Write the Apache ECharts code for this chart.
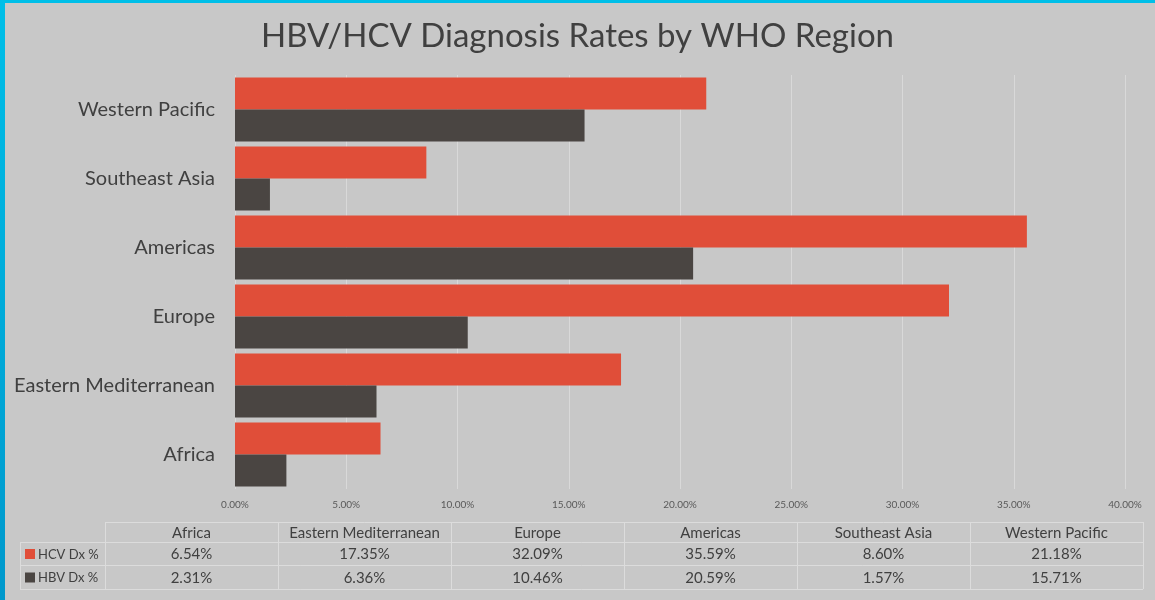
<!DOCTYPE html>
<html>
<head>
<meta charset="utf-8">
<script src="https://cdn.jsdelivr.net/npm/echarts@6/dist/echarts.min.js"></script>
<style>
  html, body { margin: 0; padding: 0; background: #c8c8c8; }
  #chart { width: 1155px; height: 600px; }
  .edgeTop { position: absolute; left: 0; top: 0; width: 1155px; height: 3px; background: #00bfe8; }
  .edgeLeft { position: absolute; left: 0; top: 0; width: 5px; height: 600px;
    background: linear-gradient(#00bfe8, #0098cc); }
</style>
</head>
<body>
<div id="chart"></div>
<div class="edgeTop"></div>
<div class="edgeLeft"></div>
<script>
// regions, bottom to top on the chart (same order as the table)
var regions = ['Africa', 'Eastern Mediterranean', 'Europe', 'Americas', 'Southeast Asia', 'Western Pacific'];
var hcvDx = [6.54, 17.35, 32.09, 35.59, 8.60, 21.18];
var hbvDx = [2.31, 6.36, 10.46, 20.59, 1.57, 15.71];
var seriesNames = ['HCV Dx %', 'HBV Dx %'];

var red = '#e04e39';
var dark = '#4a4542';
var textColor = '#404040';
var font = 'Lato, "Open Sans", sans-serif';

// data table under the chart
var tbl = { left: 20, headLeft: 105, colW: 173, rows: [522, 542, 565, 589] };
var lineColor = '#dcdcdc';
var graphic = [];

function hline(x1, x2, y) {
  graphic.push({ type: 'line', shape: { x1: x1, y1: y + 0.5, x2: x2, y2: y + 0.5 },
    style: { stroke: lineColor, lineWidth: 1 }, silent: true });
}
function vline(x, y1, y2) {
  graphic.push({ type: 'line', shape: { x1: x + 0.5, y1: y1, x2: x + 0.5, y2: y2 },
    style: { stroke: lineColor, lineWidth: 1 }, silent: true });
}
function cellText(txt, x, y, align) {
  graphic.push({ type: 'text', x: x, y: y, silent: true,
    style: { text: txt, fill: textColor, font: '15px ' + font,
      textAlign: align || 'center', textVerticalAlign: 'middle' } });
}

var tableRight = tbl.headLeft + tbl.colW * regions.length;
hline(tbl.headLeft, tableRight, tbl.rows[0]);
hline(tbl.left, tableRight, tbl.rows[1]);
hline(tbl.left, tableRight, tbl.rows[2]);
hline(tbl.left, tableRight, tbl.rows[3]);
vline(tbl.left, tbl.rows[1], tbl.rows[3]);
for (var c = 0; c <= regions.length; c++) {
  vline(tbl.headLeft + c * tbl.colW, tbl.rows[0], tbl.rows[3]);
}
var rowData = [hcvDx, hbvDx];
var rowColors = [red, dark];
regions.forEach(function (r, i) {
  var cx = tbl.headLeft + tbl.colW * (i + 0.5);
  cellText(r, cx, (tbl.rows[0] + tbl.rows[1]) / 2 + 1);
  rowData.forEach(function (arr, k) {
    cellText(arr[i].toFixed(2) + '%', cx, (tbl.rows[k + 1] + tbl.rows[k + 2]) / 2 + 1);
  });
});
seriesNames.forEach(function (n, k) {
  var cy = (tbl.rows[k + 1] + tbl.rows[k + 2]) / 2;
  graphic.push({ type: 'rect', shape: { x: 25, y: cy - 4.5, width: 10, height: 10 },
    style: { fill: rowColors[k] }, silent: true });
  graphic.push({ type: 'text', x: 38, y: cy + 1, silent: true,
    style: { text: n, fill: textColor, font: '13px ' + font,
      textAlign: 'left', textVerticalAlign: 'middle' } });
});

var chart = echarts.init(document.getElementById('chart'));
chart.setOption({
  backgroundColor: 'transparent',
  title: {
    text: 'HBV/HCV Diagnosis Rates by WHO Region',
    left: 'center',
    top: 15,
    textStyle: { color: textColor, fontFamily: font, fontWeight: 'normal', fontSize: 33 }
  },
  grid: { left: 235, right: 30, top: 75, bottom: 111 },
  xAxis: {
    type: 'value',
    min: 0,
    max: 40,
    interval: 5,
    axisLine: { show: false },
    axisTick: { show: false },
    splitLine: { lineStyle: { color: '#d9d9d9', width: 1 } },
    axisLabel: {
      color: '#595959', fontSize: 10, fontFamily: font, margin: 11,
      formatter: function (v) { return v.toFixed(2) + '%'; }
    }
  },
  yAxis: {
    type: 'category',
    data: regions,
    axisLine: { show: false },
    axisTick: { show: false },
    axisLabel: { color: textColor, fontSize: 20, fontFamily: font, margin: 20 }
  },
  series: [
    {
      name: seriesNames[0],
      type: 'bar',
      data: hcvDx,
      barGap: '0%',
      barCategoryGap: '7%',
      itemStyle: { color: red }
    },
    {
      name: seriesNames[1],
      type: 'bar',
      data: hbvDx,
      barGap: '0%',
      barCategoryGap: '7%',
      itemStyle: { color: dark }
    }
  ],
  graphic: graphic
});
</script>
</body>
</html>
